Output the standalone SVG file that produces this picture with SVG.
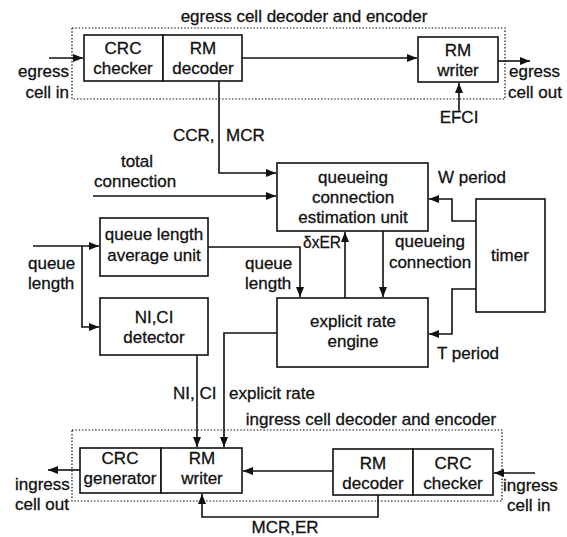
<svg xmlns="http://www.w3.org/2000/svg" width="567" height="537" viewBox="0 0 567 537">
<style>
text{font-family:"Liberation Sans",Arial,sans-serif;font-size:17px;fill:#111;stroke:#111;stroke-width:0.3}
.m{text-anchor:middle}
.e{text-anchor:end}
.box{fill:#fff;stroke:#111;stroke-width:1.6}
.dot{fill:none;stroke:#111;stroke-width:1.2;stroke-dasharray:1.5 1.8}
.c{fill:none;stroke:#111;stroke-width:1.6}
</style>
<defs>
<marker id="a" viewBox="0 0 10 8" refX="10" refY="4" markerWidth="10" markerHeight="8" markerUnits="userSpaceOnUse" orient="auto">
<path d="M0,0 L10,4 L0,8 Z" fill="#111"/>
</marker>
</defs>
<rect width="567" height="537" fill="#fff"/>

<g id="egress-group">
<rect class="dot" x="72" y="28" width="433" height="71"/>
<text class="m" x="304" y="22">egress cell decoder and encoder</text>
</g>
<g id="ingress-group">
<rect class="dot" x="72" y="430" width="430" height="71"/>
<text class="m" x="371" y="425">ingress cell decoder and encoder</text>
</g>

<g id="egress-crc-checker">
<rect class="box" x="84" y="35" width="79" height="46"/>
<text class="m" x="123" y="54">CRC</text>
<text class="m" x="123" y="74">checker</text>
</g>
<g id="egress-rm-decoder">
<rect class="box" x="163" y="35" width="79" height="46"/>
<text class="m" x="203" y="54">RM</text>
<text class="m" x="203" y="74">decoder</text>
</g>
<g id="egress-rm-writer">
<rect class="box" x="418" y="37" width="80" height="45"/>
<text class="m" x="458" y="56">RM</text>
<text class="m" x="458" y="76">writer</text>
</g>
<g id="queueing-estimation">
<rect class="box" x="277" y="163" width="151" height="68"/>
<text class="m" x="353" y="183">queueing</text>
<text class="m" x="353" y="203">connection</text>
<text class="m" x="353" y="223">estimation unit</text>
</g>
<g id="timer">
<rect class="box" x="476" y="199" width="69" height="113"/>
<text class="m" x="510" y="261">timer</text>
</g>
<g id="queue-average">
<rect class="box" x="100" y="218" width="108" height="58"/>
<text class="m" x="154" y="240">queue length</text>
<text class="m" x="154" y="261">average unit</text>
</g>
<g id="nici-detector">
<rect class="box" x="100" y="298" width="108" height="57"/>
<text class="m" x="154" y="323">NI,CI</text>
<text class="m" x="154" y="343">detector</text>
</g>
<g id="explicit-rate-engine">
<rect class="box" x="277" y="298" width="151" height="69"/>
<text class="m" x="353" y="327">explicit rate</text>
<text class="m" x="353" y="347">engine</text>
</g>
<g id="ingress-crc-generator">
<rect class="box" x="80" y="448" width="81" height="45"/>
<text class="m" x="120" y="464">CRC</text>
<text class="m" x="120" y="484">generator</text>
</g>
<g id="ingress-rm-writer">
<rect class="box" x="161" y="448" width="81" height="45"/>
<text class="m" x="202" y="464">RM</text>
<text class="m" x="202" y="484">writer</text>
</g>
<g id="ingress-rm-decoder">
<rect class="box" x="333" y="449" width="80" height="46"/>
<text class="m" x="373" y="469">RM</text>
<text class="m" x="373" y="489">decoder</text>
</g>
<g id="ingress-crc-checker">
<rect class="box" x="413" y="449" width="80" height="46"/>
<text class="m" x="453" y="469">CRC</text>
<text class="m" x="453" y="489">checker</text>
</g>

<g id="connectors">
<path class="c" d="M49,58 H83" marker-end="url(#a)"/>
<path class="c" d="M242,58 H417" marker-end="url(#a)"/>
<path class="c" d="M498,61 H530" marker-end="url(#a)"/>
<path class="c" d="M459,112 V83" marker-end="url(#a)"/>
<path class="c" d="M219,81 V173 H276" marker-end="url(#a)"/>
<path class="c" d="M93,196 H276" marker-end="url(#a)"/>
<path class="c" d="M476,221 H452 V199 H429" marker-end="url(#a)"/>
<path class="c" d="M476,289 H452 V334 H429" marker-end="url(#a)"/>
<path class="c" d="M345,298 V232" marker-end="url(#a)"/>
<path class="c" d="M383,231 V297" marker-end="url(#a)"/>
<path class="c" d="M208,247 H300 V297" marker-end="url(#a)"/>
<path class="c" d="M33,246 H99" marker-end="url(#a)"/>
<path class="c" d="M82,246 V327 H99" marker-end="url(#a)"/>
<path class="c" d="M197,355 V447" marker-end="url(#a)"/>
<path class="c" d="M277,333 H224 V447" marker-end="url(#a)"/>
<path class="c" d="M333,471 H243" marker-end="url(#a)"/>
<path class="c" d="M535,473 H494" marker-end="url(#a)"/>
<path class="c" d="M80,470 H48" marker-end="url(#a)"/>
<path class="c" d="M378,495 V517 H202 V494" marker-end="url(#a)"/>
</g>

<g id="labels">
<text class="e" x="69" y="77">egress</text>
<text class="e" x="69" y="98">cell in</text>
<text x="509" y="77">egress</text>
<text x="508" y="98">cell out</text>
<text class="m" x="459" y="123">EFCI</text>
<text x="173" y="141">CCR,</text>
<text x="226" y="141">MCR</text>
<text class="m" x="137" y="167">total</text>
<text x="94" y="187">connection</text>
<text x="438" y="183">W period</text>
<text x="303" y="248" textLength="38" lengthAdjust="spacingAndGlyphs">δxER</text>
<text class="m" x="430" y="247">queueing</text>
<text class="m" x="430" y="268">connection</text>
<text x="245" y="269">queue</text>
<text x="245" y="289">length</text>
<text x="28" y="269">queue</text>
<text x="28" y="289">length</text>
<text x="437" y="359">T period</text>
<text x="173" y="399">NI, CI</text>
<text x="229" y="399">explicit rate</text>
<text x="503" y="491">ingress</text>
<text x="507" y="511">cell in</text>
<text x="15" y="490">ingress</text>
<text x="15" y="510">cell out</text>
<text class="m" x="285" y="533">MCR,ER</text>
</g>
</svg>
